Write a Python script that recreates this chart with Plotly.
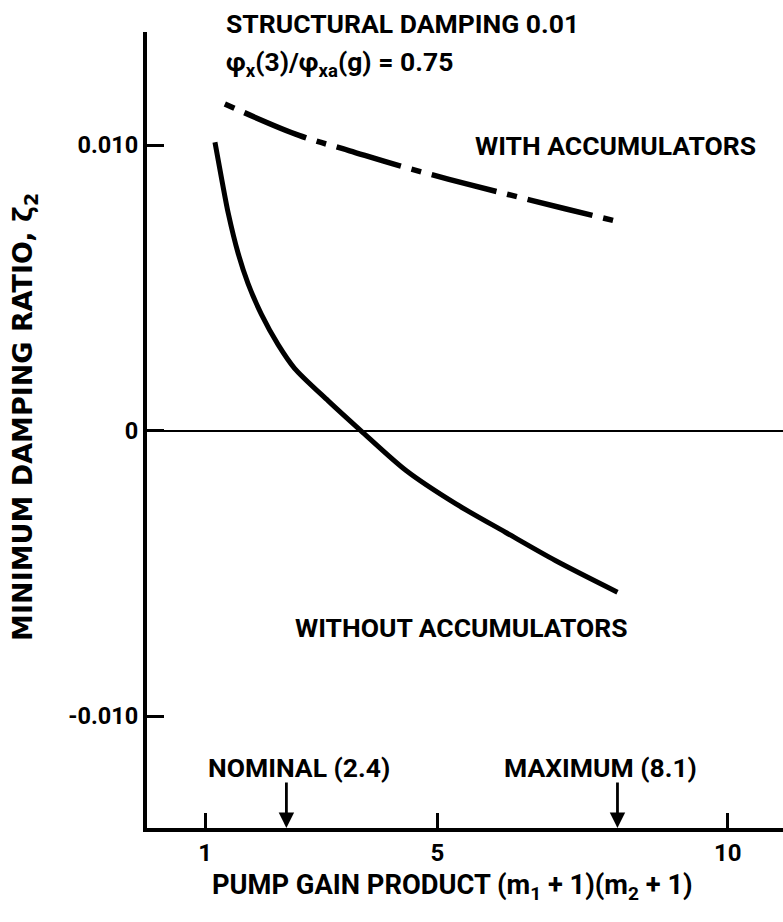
import plotly.graph_objects as go

# Pump gain product (m1 + 1)(m2 + 1) vs. minimum damping ratio zeta_2
x_without = [1.17, 1.29, 1.40, 1.57, 1.74, 1.97, 2.26, 2.54, 3.12, 3.68,
             4.46, 5.32, 6.17, 7.03, 8.1]
y_without = [0.0101, 0.00876, 0.0076, 0.0062, 0.00515, 0.00407, 0.003, 0.00218,
             0.00104, 0.0, -0.0014, -0.00257, -0.00356, -0.00455, -0.00566]

x_with = [1.34, 2.63, 3.49, 4.34, 5.2, 6.06, 7.2, 8.03]
y_with = [0.01144, 0.01033, 0.0098, 0.00928, 0.0088, 0.00835, 0.00777, 0.00736]

x_ticks = [1, 5, 10]
x_tick_labels = ["1", "5", "10"]
y_ticks = [-0.010, 0, 0.010]
y_tick_labels = ["-0.010", "0", "0.010"]

# operating points marked along the pump gain axis
marker_labels = ["NOMINAL (2.4)", "MAXIMUM (8.1)"]
marker_values = [2.4, 8.1]
marker_label_x = [2.62, 7.80]

FONT = "Roboto, Liberation Sans, Arial, sans-serif"
WIDE_FONT = "DejaVu Sans, Roboto, sans-serif"
INK = "#000000"
TXT = 26.5

fig = go.Figure()

fig.add_trace(go.Scatter(
    x=x_with, y=y_with, mode="lines", line_shape="spline",
    line=dict(color=INK, width=5.5, dash="10px,11px,67px,11px"),
    showlegend=False, hoverinfo="skip",
))
fig.add_trace(go.Scatter(
    x=x_without, y=y_without, mode="lines", line_shape="spline",
    line=dict(color=INK, width=5, smoothing=0.8),
    showlegend=False, hoverinfo="skip",
))


def label(text, x, y, xanchor="center", xref="x", yref="y", size=TXT, **kw):
    d = dict(x=x, y=y, xref=xref, yref=yref, xanchor=xanchor, yanchor="middle",
             text=f"<b>{text}</b>", showarrow=False, font=dict(size=size))
    d.update(kw)
    return d


annotations = [
    label("STRUCTURAL DAMPING 0.01", 1.33, 1.0101, xanchor="left", yref="paper"),
    label("φ<sub>x</sub>(3)/φ<sub>xa</sub>(g) = 0.75", 1.33, 0.9598, xanchor="left", yref="paper"),
    label("WITH ACCUMULATORS", 8.07, 0.00998),
    label("WITHOUT ACCUMULATORS", 5.42, -0.0069),
    # axis titles
    label("MINIMUM DAMPING RATIO, ζ<sub>2</sub>", -0.1918, 0.5165, xref="paper", yref="paper",
          textangle=-90, font=dict(size=27, family=WIDE_FONT)),
    label("PUMP GAIN PRODUCT (m<sub>1</sub> + 1)(m<sub>2</sub> + 1)", 0.481, -0.0745,
          xref="paper", yref="paper", size=27.3),
]
for text, xv, xl in zip(marker_labels, marker_values, marker_label_x):
    annotations.append(label(text, xl, -0.0118))
    annotations.append(dict(
        x=xv, y=-0.01392, xref="x", yref="y", text="", showarrow=True,
        ax=0, ay=-47, arrowhead=2, arrowsize=1.1, arrowwidth=2.8, arrowcolor=INK))

fig.update_layout(
    width=783, height=922,
    margin=dict(l=147, r=0, t=32, b=94),
    paper_bgcolor="white", plot_bgcolor="white",
    font=dict(family=FONT, size=TXT, color=INK),
    annotations=annotations,
    xaxis=dict(
        range=[0, 10.95], tickvals=x_ticks, ticktext=[f"<b>{t}</b>" for t in x_tick_labels],
        ticks="inside", ticklen=15, tickwidth=2.5, tickcolor=INK,
        showline=True, linewidth=4, linecolor=INK, showgrid=False, zeroline=False,
        tickfont=dict(size=24),
    ),
    yaxis=dict(
        range=[-0.01392, 0.01396], tickvals=y_ticks, ticktext=[f"<b>{t}</b>" for t in y_tick_labels],
        ticks="inside", ticklen=17, tickwidth=2.5, tickcolor=INK,
        showline=True, linewidth=4, linecolor=INK, showgrid=False,
        zeroline=True, zerolinewidth=2, zerolinecolor=INK,
        tickfont=dict(size=23.5),
    ),
)

fig.write_html("out.html")
